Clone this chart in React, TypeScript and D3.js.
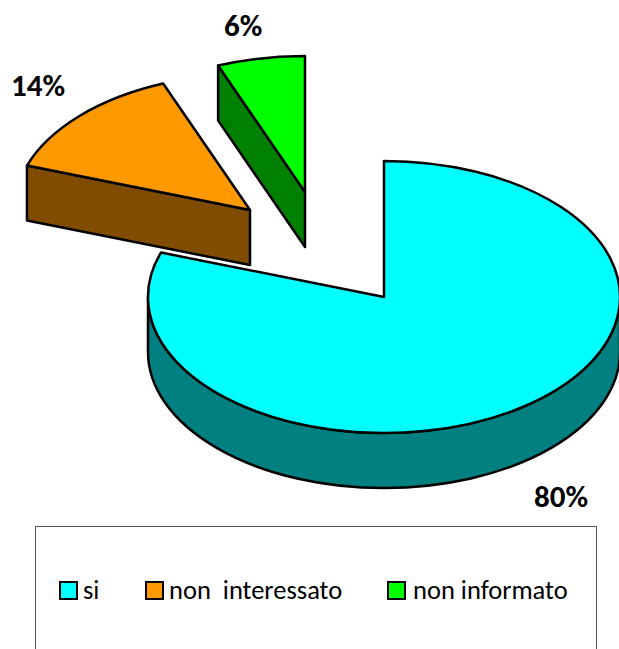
import React from "react";
import * as d3 from "d3";

const labels = ["si", "non  interessato", "non informato"];
const values = [80.3, 13.7, 6];
const topColors = ["#00ffff", "#ff9900", "#00ff00"];
const sideColors = ["#008080", "#804d00", "#008000"];
const valueLabels = ["80%", "14%", "6%"];

const W = 619, H = 649;
const RX = 236, RY = 136, DEPTH = 55;
const centers: [number, number][] = [[384, 297], [250, 210], [305, 192]];
const labelPos: [number, number][] = [[534, 507], [11, 96], [224, 36]];
const legendSwatchX = [60, 146, 388];
const legendTextX = [83, 169, 413];

const pie = d3.pie<number>().sort(null).value((d) => d);
const arcs = pie(values);
const pt = (c: [number, number], a: number, dy = 0): [number, number] => [
  c[0] + RX * Math.sin(a),
  c[1] - RY * Math.cos(a) + dy,
];
const f = (p: [number, number]) => `${p[0].toFixed(2)} ${p[1].toFixed(2)}`;

function topPath(c: [number, number], a0: number, a1: number) {
  const large = a1 - a0 > Math.PI ? 1 : 0;
  return `M${f(c)}L${f(pt(c, a0))}A${RX} ${RY} 0 ${large} 1 ${f(pt(c, a1))}Z`;
}
function wall(a: [number, number], b: [number, number]) {
  return `M${f(a)}L${f(b)}L${b[0]} ${b[1] + DEPTH}L${a[0]} ${a[1] + DEPTH}Z`;
}
function outerWall(c: [number, number], a0: number, a1: number) {
  const p0 = pt(c, a0), p1 = pt(c, a1);
  const p0d = pt(c, a0, DEPTH), p1d = pt(c, a1, DEPTH);
  return `M${f(p0)}A${RX} ${RY} 0 0 1 ${f(p1)}L${f(p1d)}A${RX} ${RY} 0 0 0 ${f(p0d)}Z`;
}

export default function App() {
  const stroke = { stroke: "#000", strokeWidth: 2.5, strokeLinejoin: "round" as const };
  const font = "Carlito, 'Open Sans', 'Noto Sans', sans-serif";
  return (
    <svg width={W} height={H} viewBox={`0 0 ${W} ${H}`} style={{ position: "fixed", left: 0, top: 0, background: "#fff" }}>
      <path d={outerWall(centers[0], Math.PI / 2, (3 * Math.PI) / 2)} fill={sideColors[0]} {...stroke} />
      <path d={topPath(centers[0], arcs[0].startAngle, arcs[0].endAngle)} fill={topColors[0]} {...stroke} />
      <path d={wall(pt(centers[1], arcs[1].startAngle), centers[1])} fill={sideColors[1]} {...stroke} />
      <path d={topPath(centers[1], arcs[1].startAngle, arcs[1].endAngle)} fill={topColors[1]} {...stroke} />
      <path d={wall(pt(centers[2], arcs[2].startAngle), centers[2])} fill={sideColors[2]} {...stroke} />
      <path d={topPath(centers[2], arcs[2].startAngle, arcs[2].endAngle)} fill={topColors[2]} {...stroke} />
      {valueLabels.map((t, i) => (
        <text key={t} x={labelPos[i][0]} y={labelPos[i][1]} fontFamily={font} fontWeight="bold" fontSize={31} fill="#000">{t}</text>
      ))}
      <rect x={35.5} y={526.5} width={561} height={140} fill="none" stroke="#555" strokeWidth={1} />
      {labels.map((t, i) => (
        <g key={t}>
          <rect x={legendSwatchX[i]} y={582} width={17} height={17} fill={topColors[i]} stroke="#000" strokeWidth={2} />
          <text x={legendTextX[i]} y={599} fontFamily={font} fontSize={26.5} fill="#000" style={{ whiteSpace: "pre" }}>{t}</text>
        </g>
      ))}
    </svg>
  );
}
